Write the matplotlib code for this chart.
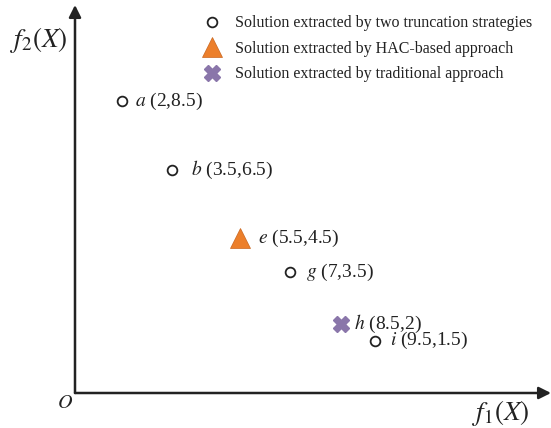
import matplotlib.pyplot as plt

# solutions (f1, f2)
trunc_names = ['a', 'b', 'g', 'i']
trunc_f1 = [2, 3.5, 7, 9.5]
trunc_f2 = [8.5, 6.5, 3.5, 1.5]

hac_names = ['e']
hac_f1 = [5.5]
hac_f2 = [4.5]

trad_names = ['h']
trad_f1 = [8.5]
trad_f2 = [2]

legend_labels = ['Solution extracted by two truncation strategies',
                 'Solution extracted by HAC-based approach',
                 'Solution extracted by traditional approach']

# label gap to the right of each marker, in points
label_gap = {'a': 9.5, 'b': 13.5, 'g': 11, 'i': 11, 'e': 13, 'h': 9.5}


def fmt(v):
    return f'{v:g}'


def main():
    plt.rcParams['font.family'] = 'Liberation Serif'
    plt.rcParams['mathtext.fontset'] = 'stix'

    fig = plt.figure(figsize=(5.51, 4.28), dpi=100)
    ax = fig.add_axes([75/551, 1-393/428, 476/551, 388/428])
    ax.set_xlim(0.61, 14.73)
    ax.set_ylim(-0.02, 11.3)
    for s in ax.spines.values():
        s.set_visible(False)
    ax.set_xticks([])
    ax.set_yticks([])
    ax.patch.set_alpha(0)

    # axes with arrows
    for tip in [(1, 0), (0, 1)]:
        ax.annotate('', xy=tip, xytext=(0, 0), xycoords='axes fraction',
                    arrowprops=dict(arrowstyle='-|>', color='#222222', lw=1.8,
                                    mutation_scale=18, shrinkA=0, shrinkB=0),
                    annotation_clip=False)

    h1, = ax.plot(trunc_f1, trunc_f2, 'o', ls='none', ms=7, mfc='white',
                  mec='#222222', mew=1.3, label=legend_labels[0])
    h2, = ax.plot(hac_f1, hac_f2, '^', ls='none', ms=15, color='#EC7F2B',
                  mec='#C9661F', mew=0.5, label=legend_labels[1])
    h3, = ax.plot(trad_f1, trad_f2, 'X', ls='none', ms=11.5, color='#8A76AA',
                  mec='#8A76AA', label=legend_labels[2])

    groups = [(trunc_names, trunc_f1, trunc_f2),
              (hac_names, hac_f1, hac_f2),
              (trad_names, trad_f1, trad_f2)]
    for names, xs, ys in groups:
        for n, x, y in zip(names, xs, ys):
            ax.annotate(f'$\\mathit{{{n}}}$ ({fmt(x)},{fmt(y)})', (x, y),
                        xytext=(label_gap[n], 0), textcoords='offset points',
                        fontsize=14, va='center', ha='left', color='#222222')

    fig.text(10/551, 1-40/428, '$f_2(X)$', fontsize=19.5, va='center', ha='left',
             color='#222222')
    fig.text(472/551, 1-413/428, '$f_1(X)$', fontsize=19.5, va='center', ha='left',
             color='#222222')
    fig.text(65/551, 1-404/428, '$O$', fontsize=14.5, va='center', ha='center',
             color='#222222')

    fig.legend(handles=[h1, h2, h3], loc='upper left',
               bbox_to_anchor=(190/551, 1-4/428), frameon=False,
               fontsize=11.55, handlelength=1.4, handletextpad=0.69,
               labelspacing=0.6, borderpad=0.2, labelcolor='#222222')

    fig.savefig('out.png', dpi=100)


if __name__ == '__main__':
    main()
